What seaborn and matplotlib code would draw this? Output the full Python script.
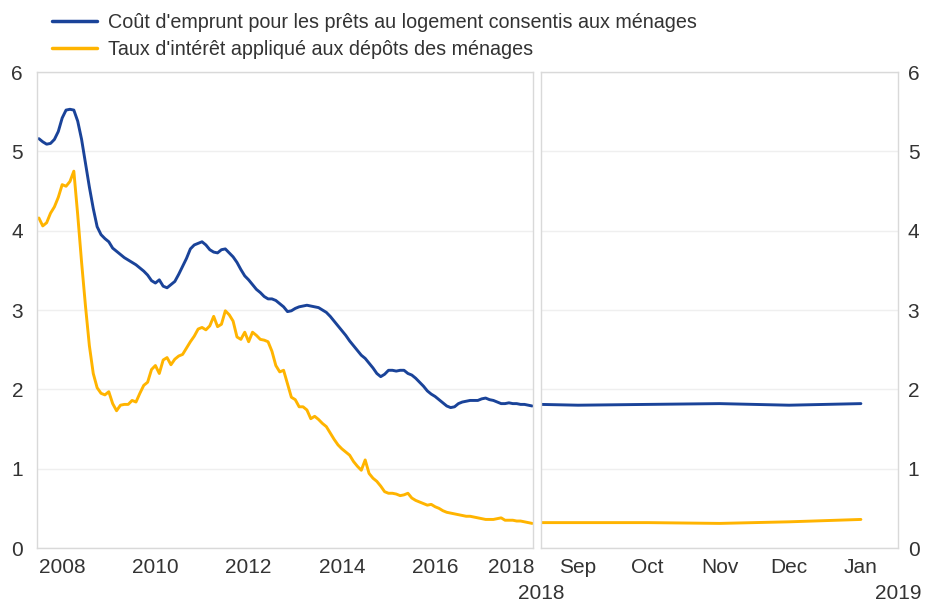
import numpy as np
import pandas as pd
import matplotlib
matplotlib.use("Agg")
import matplotlib.pyplot as plt
import matplotlib.dates as mdates
import matplotlib.transforms as mtransforms
import seaborn as sns

# ---------------- data ----------------
series_names = ["Coût d'emprunt pour les prêts au logement consentis aux ménages",
                "Taux d'intérêt appliqué aux dépôts des ménages"]

left_start = "2008-01-01"
left_end = "2018-08-01"

cost_borrowing = [
    5.16, 5.12, 5.09, 5.10, 5.15, 5.25, 5.42, 5.52, 5.53, 5.52, 5.38, 5.15,
    4.85, 4.55, 4.28, 4.05, 3.95, 3.90, 3.86, 3.78, 3.74, 3.70, 3.66, 3.63,
    3.60, 3.57, 3.53, 3.49, 3.44, 3.37, 3.34, 3.38, 3.30, 3.28, 3.32, 3.36,
    3.45, 3.55, 3.65, 3.77, 3.82, 3.84, 3.86, 3.82, 3.76, 3.73, 3.72, 3.76,
    3.77, 3.72, 3.67, 3.60, 3.51, 3.43, 3.38, 3.32, 3.26, 3.22, 3.17, 3.14,
    3.14, 3.12, 3.08, 3.04, 2.98, 2.99, 3.02, 3.04, 3.05, 3.06, 3.05, 3.04,
    3.03, 3.00, 2.97, 2.92, 2.86, 2.80, 2.74, 2.68, 2.61, 2.55, 2.49, 2.43,
    2.39, 2.33, 2.27, 2.20, 2.16, 2.19, 2.24, 2.24, 2.23, 2.24, 2.24, 2.20,
    2.18, 2.14, 2.09, 2.04, 1.98, 1.94, 1.91, 1.87, 1.83, 1.79, 1.77, 1.78,
    1.82, 1.84, 1.85, 1.86, 1.86, 1.86, 1.88, 1.89, 1.87, 1.86, 1.84, 1.82,
    1.82, 1.83, 1.82, 1.82, 1.81, 1.81, 1.80, 1.79,
]

deposit_rate = [
    4.16, 4.06, 4.10, 4.22, 4.30, 4.42, 4.58, 4.56, 4.62, 4.75, 4.20, 3.60,
    3.05, 2.55, 2.20, 2.02, 1.95, 1.93, 1.97, 1.82, 1.73, 1.80, 1.81, 1.81,
    1.86, 1.84, 1.95, 2.05, 2.09, 2.25, 2.30, 2.20, 2.37, 2.40, 2.31, 2.38,
    2.42, 2.44, 2.52, 2.60, 2.67, 2.76, 2.78, 2.75, 2.80, 2.92, 2.79, 2.82,
    2.99, 2.94, 2.86, 2.66, 2.63, 2.72, 2.60, 2.72, 2.68, 2.63, 2.62, 2.60,
    2.48, 2.30, 2.22, 2.24, 2.07, 1.90, 1.87, 1.78, 1.78, 1.74, 1.63, 1.66,
    1.62, 1.57, 1.53, 1.45, 1.37, 1.30, 1.25, 1.21, 1.17, 1.09, 1.03, 0.98,
    1.11, 0.94, 0.88, 0.84, 0.78, 0.71, 0.69, 0.69, 0.68, 0.66, 0.67, 0.69,
    0.63, 0.60, 0.58, 0.56, 0.54, 0.55, 0.52, 0.50, 0.47, 0.45, 0.44, 0.43,
    0.42, 0.41, 0.40, 0.40, 0.39, 0.38, 0.37, 0.36, 0.36, 0.36, 0.37, 0.38,
    0.35, 0.35, 0.35, 0.34, 0.34, 0.33, 0.32, 0.31,
]

right_dates = ["2018-08-16", "2018-09-01", "2018-10-01", "2018-11-01",
               "2018-12-01", "2019-01-01"]
right_cost = [1.81, 1.80, 1.81, 1.82, 1.80, 1.82]
right_deposit = [0.32, 0.32, 0.32, 0.31, 0.33, 0.36]

left_year_labels = ["2008", "2010", "2012", "2014", "2016", "2018"]
right_month_labels = ["Sep", "Oct", "Nov", "Dec", "Jan"]
right_month_dates = ["2018-09-01", "2018-10-01", "2018-11-01", "2018-12-01", "2019-01-01"]
right_year_labels = ["2018", "2019"]

# ---------------- build tables ----------------
months = pd.date_range(left_start, left_end, freq="MS")
dec_year = months.year + (months.month - 1) / 12.0
left_df = pd.concat([
    pd.DataFrame({"x": dec_year, "value": cost_borrowing, "series": series_names[0]}),
    pd.DataFrame({"x": dec_year, "value": deposit_rate, "series": series_names[1]}),
])
rd = mdates.date2num(pd.to_datetime(right_dates))
right_df = pd.concat([
    pd.DataFrame({"x": rd, "value": right_cost, "series": series_names[0]}),
    pd.DataFrame({"x": rd, "value": right_deposit, "series": series_names[1]}),
])

# ---------------- style ----------------
sns.set_theme(style="white")
plt.rcParams["font.family"] = ["Liberation Sans", "DejaVu Sans"]
BLUE = "#1a4399"
YELLOW = "#ffb400"
palette = {series_names[0]: BLUE, series_names[1]: YELLOW}
TXT = "#333333"
FRAME = "#d9d9d9"
GRID = "#efefef"
TICKFS = 15

fig = plt.figure(figsize=(9.26, 6.04), dpi=100)
W, H = 926, 604
axL = fig.add_axes([37 / W, (H - 548) / H, (533 - 37) / W, (548 - 72) / H])
axR = fig.add_axes([541 / W, (H - 548) / H, (898 - 541) / W, (548 - 72) / H])

for ax, df in ((axL, left_df), (axR, right_df)):
    sns.lineplot(data=df, x="x", y="value", hue="series", palette=palette,
                 hue_order=series_names, linewidth=2.1, ax=ax, legend=False)
    ax.set_ylim(0, 6)
    ax.set_yticks(range(0, 7))
    ax.grid(axis="y", color=GRID, linewidth=1.0)
    ax.set_axisbelow(True)
    ax.set_xlabel("")
    ax.set_ylabel("")
    for s in ax.spines.values():
        s.set_color(FRAME)
        s.set_linewidth(1.0)
    ax.tick_params(axis="y", length=0, labelsize=TICKFS, labelcolor=TXT, pad=10)
    ax.tick_params(axis="x", which="both", length=4, color=FRAME,
                   labelsize=TICKFS, labelcolor=TXT, pad=3)

# left panel
axL.set_xlim(2007.96, 2018.60)
axL.set_xticks(np.arange(2008, 2019) + 0.5)
axL.set_xticklabels([str(y) if str(y) in left_year_labels else "" for y in range(2008, 2019)])
last = [t for t in axL.get_xticklabels() if t.get_text() == "2018"][0]
last.set_horizontalalignment("right")
last.set_transform(last.get_transform() + mtransforms.ScaledTranslation(6 / 100, 0, fig.dpi_scale_trans))

# right panel
axR.set_xlim(mdates.date2num(pd.Timestamp("2018-08-16")),
             mdates.date2num(pd.Timestamp("2019-01-17")))
axR.set_xticks(mdates.date2num(pd.to_datetime(right_month_dates)))
axR.set_xticklabels(right_month_labels)
axR.xaxis.set_minor_locator(mdates.MonthLocator(bymonthday=16))
axR.yaxis.tick_right()
axR.tick_params(axis="y", labelright=True, labelleft=False, pad=7)
axR.text(0.0, -0.095, right_year_labels[0], transform=axR.transAxes, ha="center",
         va="center", fontsize=TICKFS, color=TXT)
axR.text(1.0, -0.095, right_year_labels[1], transform=axR.transAxes, ha="center",
         va="center", fontsize=TICKFS, color=TXT)

# legend
handles = [plt.Line2D([], [], color=BLUE, linewidth=2.5),
           plt.Line2D([], [], color=YELLOW, linewidth=2.5)]
fig.legend(handles, series_names, loc="upper left", bbox_to_anchor=(52 / W, 1 - 13 / H),
           frameon=False, fontsize=14.2, handlelength=2.28, handletextpad=0.56,
           labelspacing=0.39, borderaxespad=0, borderpad=0, labelcolor=TXT)

fig.savefig("out.png", dpi=100)
